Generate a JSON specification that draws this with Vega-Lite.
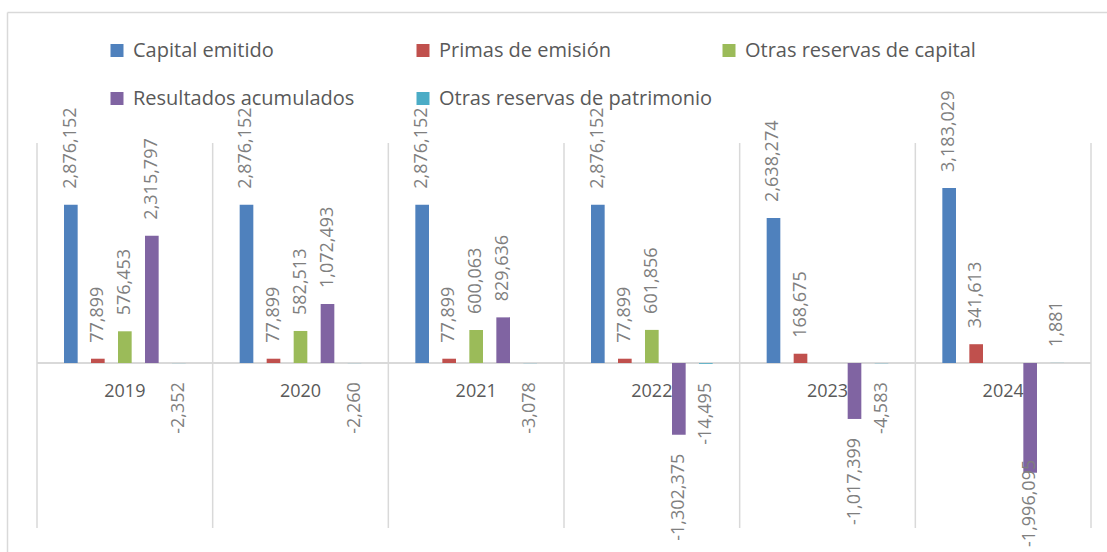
{
  "$schema": "https://vega.github.io/schema/vega-lite/v6.json",
  "width": 1100,
  "height": 540,
  "autosize": {"type": "none"},
  "padding": {"left": 7, "top": 12, "right": 0, "bottom": 0},
  "background": "white",
  "data": {
    "values": [
      {"year": "2019", "series": "Capital emitido", "value": 2876152},
      {"year": "2019", "series": "Primas de emisión", "value": 77899},
      {"year": "2019", "series": "Otras reservas de capital", "value": 576453},
      {"year": "2019", "series": "Resultados acumulados", "value": 2315797},
      {"year": "2019", "series": "Otras reservas de patrimonio", "value": -2352},
      {"year": "2020", "series": "Capital emitido", "value": 2876152},
      {"year": "2020", "series": "Primas de emisión", "value": 77899},
      {"year": "2020", "series": "Otras reservas de capital", "value": 582513},
      {"year": "2020", "series": "Resultados acumulados", "value": 1072493},
      {"year": "2020", "series": "Otras reservas de patrimonio", "value": -2260},
      {"year": "2021", "series": "Capital emitido", "value": 2876152},
      {"year": "2021", "series": "Primas de emisión", "value": 77899},
      {"year": "2021", "series": "Otras reservas de capital", "value": 600063},
      {"year": "2021", "series": "Resultados acumulados", "value": 829636},
      {"year": "2021", "series": "Otras reservas de patrimonio", "value": -3078},
      {"year": "2022", "series": "Capital emitido", "value": 2876152},
      {"year": "2022", "series": "Primas de emisión", "value": 77899},
      {"year": "2022", "series": "Otras reservas de capital", "value": 601856},
      {"year": "2022", "series": "Resultados acumulados", "value": -1302375},
      {"year": "2022", "series": "Otras reservas de patrimonio", "value": -14495},
      {"year": "2023", "series": "Capital emitido", "value": 2638274},
      {"year": "2023", "series": "Primas de emisión", "value": 168675},
      {"year": "2023", "series": "Resultados acumulados", "value": -1017399},
      {"year": "2023", "series": "Otras reservas de patrimonio", "value": -4583},
      {"year": "2024", "series": "Capital emitido", "value": 3183029},
      {"year": "2024", "series": "Primas de emisión", "value": 341613},
      {"year": "2024", "series": "Resultados acumulados", "value": -1996095},
      {"year": "2024", "series": "Otras reservas de patrimonio", "value": 1881}
    ]
  },
  "encoding": {
    "x": {
      "field": "year",
      "type": "nominal",
      "scale": {"paddingInner": 0, "paddingOuter": 0.13093, "align": 0.6522},
      "axis": {
        "orient": "top",
        "title": null,
        "labels": false,
        "ticks": false,
        "grid": false,
        "domain": true,
        "domainColor": "#d9d9d9",
        "domainWidth": 1.5
      }
    },
    "y": {
      "type": "quantitative",
      "scale": {"domain": [-3436364, 6381818], "nice": false, "zero": false},
      "axis": {
        "orient": "left",
        "title": null,
        "labels": false,
        "ticks": false,
        "grid": false,
        "values": [0],
        "domain": true,
        "domainColor": "#d9d9d9",
        "domainWidth": 1.5
      }
    }
  },
  "layer": [
    {
      "transform": [{"aggregate": [{"op": "count", "as": "n"}], "groupby": ["year"]}],
      "mark": {"type": "rule", "color": "#d9d9d9", "strokeWidth": 1.5},
      "encoding": {
        "x": {"field": "year", "type": "nominal", "bandPosition": 0},
        "y": {"datum": -3000000, "type": "quantitative"},
        "y2": {"datum": 4000000}
      }
    },
    {
      "transform": [{"filter": "datum.year == '2024'"}, {"aggregate": [{"op": "count", "as": "n"}], "groupby": ["year"]}],
      "mark": {"type": "rule", "color": "#d9d9d9", "strokeWidth": 1.5},
      "encoding": {
        "x": {"field": "year", "type": "nominal", "bandPosition": 1},
        "y": {"datum": -3000000, "type": "quantitative"},
        "y2": {"datum": 4000000}
      }
    },
    {
      "transform": [{"aggregate": [{"op": "count", "as": "n"}], "groupby": ["year"]}],
      "mark": {"type": "rect", "fill": null, "fillOpacity": 0, "stroke": "#d9d9d9", "strokeWidth": 2},
      "encoding": {
        "y": {"datum": 0, "type": "quantitative"},
        "y2": {"datum": 0}
      }
    },
    {
      "transform": [{"aggregate": [{"op": "count", "as": "n"}], "groupby": ["year"]}],
      "mark": {"type": "text", "dy": 29, "baseline": "middle", "align": "center", "font": "Open Sans", "fontSize": 18, "color": "#595959"},
      "encoding": {
        "y": {"datum": 0, "type": "quantitative"},
        "text": {"field": "year"}
      }
    },
    {
      "mark": {"type": "bar"},
      "encoding": {
        "xOffset": {
          "field": "series",
          "type": "nominal",
          "scale": {
            "domain": ["Capital emitido", "Primas de emisión", "Otras reservas de capital", "Resultados acumulados", "Otras reservas de patrimonio"],
            "paddingInner": 0.494,
            "paddingOuter": 1.165
          }
        },
        "y": {"field": "value"},
        "color": {
          "field": "series",
          "type": "nominal",
          "scale": {
            "domain": ["Capital emitido", "Primas de emisión", "Otras reservas de capital", "Resultados acumulados", "Otras reservas de patrimonio"],
            "range": ["#4f81bd", "#c0504d", "#9bbb59", "#8064a2", "#4bacc6"]
          },
          "legend": {
            "orient": "none",
            "legendX": 100,
            "legendY": 28.5,
            "columns": 3,
            "direction": "horizontal",
            "gridAlign": "all",
            "columnPadding": 6,
            "rowPadding": 28,
            "padding": 0,
            "symbolType": "square",
            "symbolSize": 169,
            "symbolStrokeWidth": 0,
            "labelFont": "Open Sans",
            "labelFontSize": 20,
            "labelColor": "#595959",
            "labelOffset": 6,
            "labelLimit": 400,
            "title": null
          }
        }
      }
    },
    {
      "transform": [{"filter": "datum.value >= 0"}],
      "mark": {"type": "text", "angle": -90, "align": "left", "baseline": "middle", "dx": 16, "font": "Open Sans", "fontSize": 18, "color": "#7f7f7f"},
      "encoding": {
        "xOffset": {"field": "series", "type": "nominal"},
        "y": {"field": "value"},
        "text": {"field": "value", "type": "quantitative", "format": ",d"}
      }
    },
    {
      "transform": [{"filter": "datum.value < 0 && datum.value > -1500000"}],
      "mark": {"type": "text", "angle": -90, "align": "right", "baseline": "middle", "dx": -19, "font": "Open Sans", "fontSize": 18, "color": "#7f7f7f"},
      "encoding": {
        "xOffset": {"field": "series", "type": "nominal"},
        "y": {"field": "value"},
        "text": {"field": "value", "type": "quantitative", "format": ",d"}
      }
    },
    {
      "transform": [{"filter": "datum.value <= -1500000"}],
      "mark": {"type": "text", "angle": -90, "align": "right", "baseline": "middle", "dx": 13, "font": "Open Sans", "fontSize": 18, "color": "#7f7f7f"},
      "encoding": {
        "xOffset": {"field": "series", "type": "nominal"},
        "y": {"field": "value"},
        "text": {"field": "value", "type": "quantitative", "format": ",d"}
      }
    }
  ],
  "config": {
    "view": {"stroke": null},
    "locale": {
      "number": {"decimal": ".", "thousands": ",", "grouping": [3], "currency": ["$", ""], "minus": "-"}
    }
  }
}
